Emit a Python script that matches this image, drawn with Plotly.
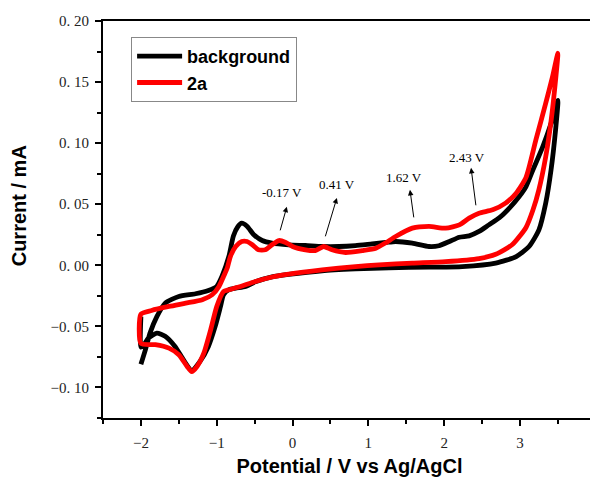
import plotly.graph_objects as go

# ---------------- data ----------------
bg_E = [-2.00, -1.94, -1.88, -1.79, -1.68, -1.50, -1.28, -1.11, -1.00, -0.93, -0.84, -0.78, -0.72, -0.67,
        -0.60, -0.51, -0.40, -0.27, -0.05, 0.17, 0.39, 0.61, 0.83, 1.05, 1.23, 1.36, 1.58, 1.80, 1.93,
        2.07, 2.20, 2.33, 2.46, 2.59, 2.73, 2.86, 2.99, 3.08, 3.17, 3.30, 3.41, 3.50,
        3.47, 3.41, 3.34, 3.25, 3.12, 2.95, 2.68, 2.24, 1.80, 1.27, 0.83, 0.39, -0.05, -0.27, -0.49,
        -0.62, -0.75, -0.84, -0.91, -0.95, -1.02, -1.11, -1.22, -1.33, -1.44, -1.55, -1.68, -1.79,
        -1.90, -1.96, -2.00, -2.00]
bg_I = [-0.081, -0.069, -0.0555, -0.042, -0.031, -0.0255, -0.0233, -0.0206, -0.0173, -0.009, 0.0072, 0.024,
        0.0318, 0.0345, 0.032, 0.025, 0.0203, 0.0182, 0.0168, 0.0162, 0.0154, 0.0154, 0.0162, 0.0176,
        0.0187, 0.0195, 0.0182, 0.0154, 0.016, 0.0195, 0.023, 0.0241, 0.0277, 0.0331, 0.039, 0.0468,
        0.0563, 0.0645, 0.078, 0.097, 0.116, 0.135,
        0.111, 0.078, 0.051, 0.029, 0.0154, 0.0072, 0.0018, -0.001, -0.0015, -0.002, -0.003, -0.0045,
        -0.0075, -0.0095, -0.0135, -0.0173, -0.0187, -0.020, -0.0241, -0.0337, -0.050, -0.0664, -0.0787,
        -0.086, -0.0773, -0.0664, -0.058, -0.0555, -0.0596, -0.065, -0.067, -0.042]

a2_E = [-2.00, -1.86, -1.63, -1.41, -1.19, -1.06, -0.97, -0.91, -0.86, -0.82, -0.75, -0.67, -0.60, -0.53,
        -0.45, -0.36, -0.27, -0.18, -0.09, 0.00, 0.17, 0.30, 0.41, 0.52, 0.70, 0.92, 1.10, 1.23, 1.36,
        1.58, 1.80, 2.02, 2.20, 2.33, 2.46, 2.64, 2.81, 2.95, 3.08, 3.21, 3.34, 3.43, 3.50,
        3.47, 3.41, 3.34, 3.25, 3.17, 3.08, 2.90, 2.68, 2.46, 2.02, 1.58, 1.14, 0.83, 0.39, -0.05, -0.27,
        -0.49, -0.71, -0.84, -0.91, -1.00, -1.08, -1.17, -1.26, -1.33, -1.39, -1.50, -1.63, -1.81,
        -2.00, -2.00]
a2_I = [-0.040, -0.037, -0.0337, -0.031, -0.0282, -0.0241, -0.0173, -0.0092, -0.002, 0.0072, 0.0154,
        0.0195, 0.0195, 0.0168, 0.0127, 0.0127, 0.0168, 0.0203, 0.0187, 0.0154, 0.0127, 0.0121, 0.0154,
        0.0127, 0.0105, 0.0121, 0.014, 0.0185, 0.0236, 0.0304, 0.0318, 0.0304, 0.0331, 0.0386, 0.0427,
        0.0454, 0.0509, 0.059, 0.072, 0.1027, 0.1327, 0.1545, 0.1736,
        0.1518, 0.118, 0.089, 0.062, 0.045, 0.031, 0.017, 0.009, 0.0055, 0.003, 0.0018, 0.0004, -0.001,
        -0.0037, -0.0072, -0.0096, -0.0132, -0.0178, -0.020, -0.0214, -0.0337, -0.0528, -0.0719,
        -0.0828, -0.087, -0.0828, -0.0732, -0.0678, -0.065, -0.064, -0.040]

series_names = ["background", "2a"]

x_tickvals = [-2, -1, 0, 1, 2, 3, 4]
x_ticktext = ["\u22122", "\u22121", "0", "1", "2", "3", "4"]
y_tickvals = [-0.10, -0.05, 0.00, 0.05, 0.10, 0.15, 0.20]
y_ticktext = ["\u22120. 10", "\u22120. 05", "0. 00", "0. 05", "0. 10", "0. 15", "0. 20"]

peak_labels = ["-0.17 V", "0.41 V", "1.62 V", "2.43 V"]
# annotation placement (text position, arrow tail, arrow head) in data units
label_pos = [(-0.141, 0.0593), (0.585, 0.0659), (1.470, 0.0716), (2.303, 0.088)]
arrow_tail = [(-0.168, 0.0274), (0.427, 0.0225), (1.602, 0.038), (2.421, 0.0479)]
arrow_head = [(-0.075, 0.0479), (0.585, 0.0552), (1.549, 0.0618), (2.355, 0.0798)]

# ---------------- figure ----------------
fig = go.Figure()
fig.add_trace(go.Scatter(x=bg_E, y=bg_I, mode="lines", name=series_names[0],
                         line=dict(color="#000000", width=4.8, shape="spline", smoothing=0.6)))
fig.add_trace(go.Scatter(x=a2_E, y=a2_I, mode="lines", name=series_names[1],
                         line=dict(color="#ff0000", width=4.8, shape="spline", smoothing=0.6)))

tick_font = dict(family="Liberation Serif, Times New Roman, serif", size=15, color="#222222")
title_font = dict(family="Liberation Sans, Arial, sans-serif", size=20, color="#000000", weight="bold")

# the page body has an 8px default margin, so the figure is sized 8px smaller
fig.update_layout(
    width=590, height=469,
    margin=dict(l=95, r=2, t=13, b=59, autoexpand=False),
    paper_bgcolor="white", plot_bgcolor="white",
    showlegend=True,
    legend=dict(x=0.057, y=0.96, xanchor="left", yanchor="top",
                bordercolor="#888888", borderwidth=1, bgcolor="white",
                font=dict(family="Liberation Sans, Arial, sans-serif", size=18, color="#000000",
                          weight="bold"),
                itemwidth=45, tracegroupgap=0),
    xaxis=dict(range=[-2.5, 4.003], tickvals=x_tickvals, ticktext=x_ticktext,
               ticks="outside", ticklen=6, tickwidth=1.5, tickcolor="#000000",
               minor=dict(dtick=0.5, ticks="outside", ticklen=4, tickwidth=1.5, tickcolor="#000000"),
               showline=True, linecolor="#000000", linewidth=2, mirror=True,
               showgrid=False, zeroline=False, tickfont=tick_font, ticklabelstandoff=4,
               ticklabeloverflow="allow", automargin=False,
               title=dict(text="Potential / V vs Ag/AgCl", font=title_font, standoff=10)),
    yaxis=dict(range=[-0.125, 0.2], tickvals=y_tickvals, ticktext=y_ticktext,
               ticks="outside", ticklen=6, tickwidth=1.5, tickcolor="#000000",
               minor=dict(dtick=0.025, tick0=0, ticks="outside", ticklen=4, tickwidth=1.5,
                          tickcolor="#000000"),
               showline=True, linecolor="#000000", linewidth=2, mirror=True,
               showgrid=False, zeroline=False, tickfont=tick_font, ticklabelstandoff=3,
               automargin=False),
)

# y-axis title placed as rotated text left of the tick labels
fig.add_annotation(text="Current / mA", xref="paper", yref="paper", x=-0.171, y=0.535,
                   textangle=-90, showarrow=False, font=title_font,
                   xanchor="center", yanchor="middle")

for lbl, (tx, ty), (ax0, ay0), (hx, hy) in zip(peak_labels, label_pos, arrow_tail, arrow_head):
    fig.add_annotation(text=lbl, x=tx, y=ty, xref="x", yref="y", showarrow=False,
                       font=dict(family="Liberation Serif, Times New Roman, serif", size=13,
                                 color="#000000"))
    fig.add_annotation(text="", x=hx, y=hy, ax=ax0, ay=ay0, xref="x", yref="y",
                       axref="x", ayref="y", showarrow=True, arrowhead=2, arrowsize=1.1,
                       arrowwidth=1, arrowcolor="#000000", standoff=0, startstandoff=0)

fig.write_html("out.html")
